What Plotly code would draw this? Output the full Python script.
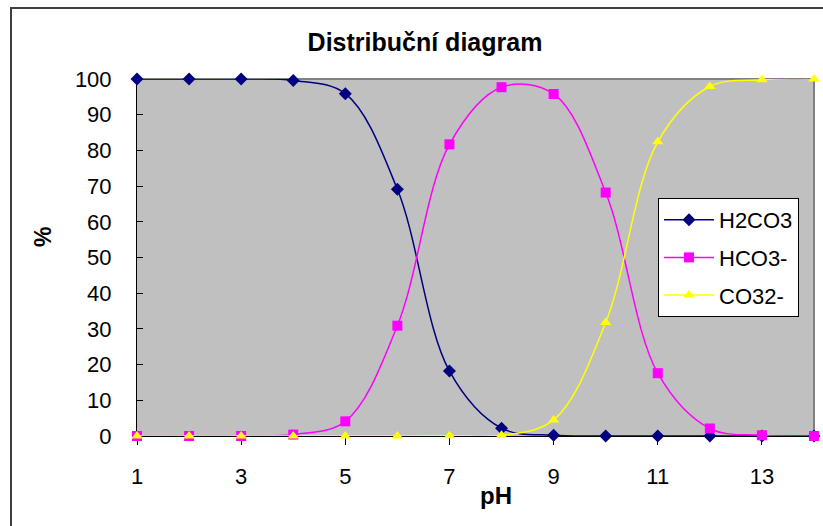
import plotly.graph_objects as go

ph = [1, 2, 3, 4, 5, 6, 7, 8, 9, 10, 11, 12, 13, 14]
h2co3 = [100, 100, 100, 99.6, 95.9, 69.1, 18.2, 2.2, 0.2, 0.0, 0.0, 0.0, 0.0, 0.0]
hco3 = [0.0, 0.0, 0.0, 0.4, 4.1, 30.9, 81.7, 97.7, 95.8, 68.2, 17.6, 2.1, 0.2, 0.0]
co3 = [0.0, 0.0, 0.0, 0.0, 0.0, 0.0, 0.1, 0.2, 4.5, 31.8, 82.4, 97.9, 99.8, 100]

x_ticks = [1, 3, 5, 7, 9, 11, 13]
y_ticks = [0, 10, 20, 30, 40, 50, 60, 70, 80, 90, 100]

FONT = "Arial, Liberation Sans, sans-serif"

W, H = 823, 526
L, R, T, B = 137, 9, 79, 90
PW = W - L - R
PH_ = H - T - B

def px(x):
    return (x - L) / PW

def py(y):
    return (H - B - y) / PH_

series = [
    ("H2CO3", h2co3, "#000080", "diamond", 10),
    ("HCO3-", hco3, "#FF00FF", "square", 10),
    ("CO32-", co3, "#FFFF00", "triangle-up", 10),
]

fig = go.Figure()
for i, (name, vals, col, sym, sz) in enumerate(series):
    fig.add_trace(go.Scatter(
        x=ph, y=vals, name=name, mode="lines+markers",
        line=dict(color=col, width=1.5, shape="spline", smoothing=1),
        marker=dict(color=col, symbol=sym, size=sz, line=dict(width=0)),
        cliponaxis=False, legendgroup=f"g{i}",
    ))

fig.update_layout(
    width=W, height=H,
    margin=dict(l=L, r=R, t=T, b=B),
    paper_bgcolor="white",
    plot_bgcolor="#C0C0C0",
    font=dict(family=FONT, size=22, color="black"),
    title=dict(text="<b>Distribuční diagram</b>", x=425 / W, xanchor="center",
               y=1 - 42 / H, yanchor="middle", font=dict(size=25, family=FONT)),
    legend=dict(x=px(658), y=py(198), xanchor="left", yanchor="top",
                bgcolor="white", bordercolor="black", borderwidth=1,
                traceorder="grouped", tracegroupgap=6, itemwidth=50,
                font=dict(size=22, family=FONT)),
    xaxis=dict(range=[1, 14], tickvals=x_ticks, ticktext=[str(v) for v in x_ticks],
               showgrid=False, zeroline=False, showline=True, linecolor="black",
               linewidth=1, ticks="outside", ticklen=8, tickcolor="black",
               ticklabelstandoff=13, layer="below traces"),
    yaxis=dict(range=[0, 100], tickvals=y_ticks, ticktext=[str(v) for v in y_ticks],
               showgrid=False, zeroline=False, showline=True, linecolor="black",
               linewidth=1, ticks="inside", ticklen=6, tickcolor="black",
               ticklabelstandoff=20, layer="below traces"),
    annotations=[
        dict(text="<b>pH</b>", xref="paper", yref="paper", x=px(496), y=py(495),
             showarrow=False, xanchor="center", yanchor="middle",
             font=dict(size=24, family=FONT)),
        dict(text="<b>%</b>", xref="paper", yref="paper", x=px(43), y=py(237),
             showarrow=False, xanchor="center", yanchor="middle", textangle=-90,
             font=dict(size=23, family=FONT)),
    ],
    shapes=[
        dict(type="rect", xref="paper", yref="paper", x0=px(11), y0=py(540),
             x1=px(840), y1=py(8), line=dict(color="#404040", width=2),
             fillcolor="rgba(0,0,0,0)", layer="below"),
        dict(type="line", xref="paper", yref="paper", x0=0, y0=1, x1=1, y1=1,
             line=dict(color="#808080", width=2), layer="below"),
        dict(type="line", xref="paper", yref="paper", x0=1, y0=0, x1=1, y1=1,
             line=dict(color="#808080", width=2), layer="below"),
    ],
)

fig.write_html("out.html")
